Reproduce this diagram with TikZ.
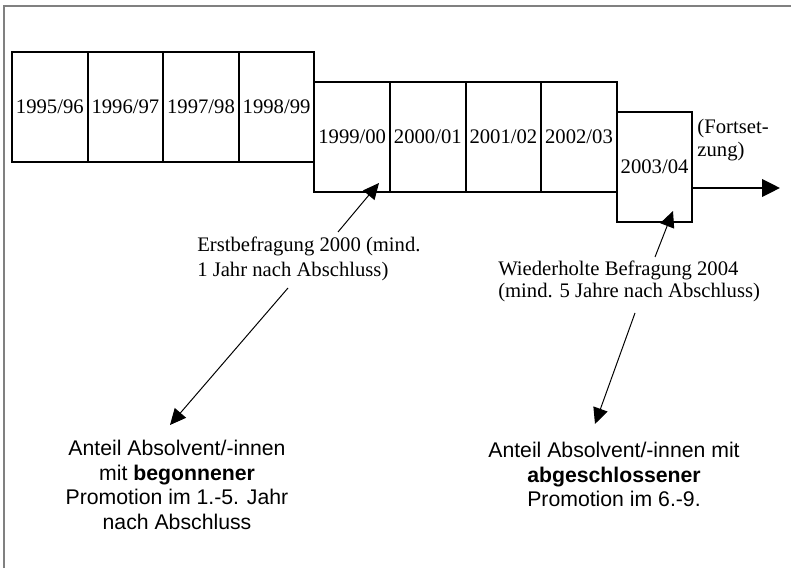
\documentclass[tikz,border=0pt]{standalone}
\usepackage{fontspec}
\setmainfont{Liberation Serif}
\setsansfont{Liberation Sans}
\usepackage{tikz}
\usetikzlibrary{arrows.meta, positioning, calc}
\definecolor{framegray}{HTML}{808080}

\begin{document}
\begin{tikzpicture}[
  yearbox/.style={draw, line width=1.4pt, minimum width=1.89cm,
    minimum height=2.75cm, inner sep=0pt, outer sep=0pt,
    font=\fontsize{14.7}{17.6}\selectfont},
  note/.style={align=left, inner sep=0pt, font=\fontsize{14.7}{17.8}\selectfont},
  share/.style={align=center, inner sep=0pt,
    font=\sffamily\fontsize{15.1}{17.6}\selectfont},
  pointer/.style={-{Triangle[length=0.4cm, width=0.37cm]}, line width=0.7pt},
  timeline/.style={-{Triangle[length=0.45cm, width=0.44cm]}, line width=1.4pt},
  frame/.style={framegray, line width=1.5pt},
]
\useasboundingbox (0,0) rectangle (19.775,14.2);

% frame (only top and left edge visible)
\draw[frame] (0.1,0) -- (0.1,14.06) -- (19.775,14.06);

% academic years
\node[yearbox, anchor=north west] (y95) at (0.3,12.9) {1995/96};
\node[yearbox, right=0pt of y95] (y96) {1996/97};
\node[yearbox, right=0pt of y96] (y97) {1997/98};
\node[yearbox, right=0pt of y97] (y98) {1998/99};
\node[yearbox, right=0pt of y98, yshift=-0.75cm] (y99) {1999/00};
\node[yearbox, right=0pt of y99] (y00) {2000/01};
\node[yearbox, right=0pt of y00] (y01) {2001/02};
\node[yearbox, right=0pt of y01] (y02) {2002/03};
\node[yearbox, right=0pt of y02, yshift=-0.75cm] (y03) {2003/04};

% continuation
\coordinate (fortend) at (19.5,9.5);
\draw[timeline] (y03.east |- fortend) -- (fortend);
\node[note, anchor=north west, font=\fontsize{14.7}{16.4}\selectfont]
  (fort) at (17.43,11.23) {(Fortset-\\zung)};

% surveys
\node[note, anchor=north west] (erst) at (4.925,8.28)
  {Erstbefragung 2000 (mind.\\1 Jahr nach Abschluss)};
\node[note, anchor=north west, font=\fontsize{14.7}{15.6}\selectfont]
  (wied) at (12.45,7.68)
  {Wiederholte Befragung 2004\\(mind. 5 Jahre nach Abschluss)};

% shares
\node[share, anchor=north] (begonnen) at (4.425,3.21)
  {Anteil Absolvent/-innen\\mit \textbf{begonnener}\\Promotion im 1.-5. Jahr\\nach Abschluss};
\node[share, anchor=north] (abgeschl) at (15.35,3.16)
  {Anteil Absolvent/-innen mit\\\textbf{abgeschlossener}\\Promotion im 6.-9.};

% pointers
\coordinate (erst-head) at (8.45,8.4);
\coordinate (erst-foot) at (7.2,7.0);
\coordinate (wied-head) at (16.375,7.775);
\coordinate (wied-foot) at (15.875,6.375);
\coordinate (hit99) at ($(y99.south)+(0.67,0.225)$);
\coordinate (hit03) at ($(y03.south)+(0.46,0.275)$);
\coordinate (hitbeg) at ($(begonnen.north)+(-0.175,0.365)$);
\coordinate (hitabg) at ($(abgeschl.north)+(-0.475,0.44)$);
\draw[pointer] (erst-head) -- (hit99);
\draw[pointer] (erst-foot) -- (hitbeg);
\draw[pointer] (wied-head) -- (hit03);
\draw[pointer] (wied-foot) -- (hitabg);

\end{tikzpicture}
\end{document}
